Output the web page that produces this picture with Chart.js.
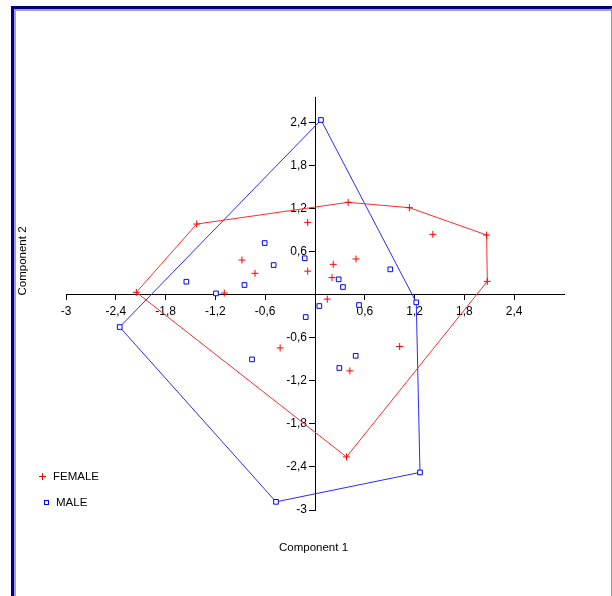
<!DOCTYPE html>
<html>
<head>
<meta charset="utf-8">
<script src="https://cdn.jsdelivr.net/npm/chart.js@4/dist/chart.umd.min.js"></script>
<style>
  html, body { margin: 0; padding: 0; background: #fff; }
  #wrap { position: relative; width: 612px; height: 596px; overflow: hidden; font-family: "Liberation Sans", Arial, sans-serif; }
  #frame { position: absolute; left: 11px; top: 6px; width: 597px; height: 600px;
           border-top: 3px solid #000080; border-left: 3px solid #000080; border-right: 2px solid #8c8cc8;
           box-shadow: inset 2px 2px 0 #9f9fdf; box-sizing: content-box; }
  canvas { position: absolute; left: 0; top: 0; }
  .txt { position: absolute; font-size: 11.5px; color: #000; white-space: nowrap; line-height: 13px; }
  .plus { position: absolute; width: 7px; height: 7px; }
  .plus:before { content: ""; position: absolute; left: 3px; top: 0; width: 1px; height: 7px; background: #ff0000; }
  .plus:after { content: ""; position: absolute; left: 0; top: 3px; width: 7px; height: 1px; background: #ff0000; }
  .sq { position: absolute; width: 3px; height: 3px; border: 1px solid #0000ff; background: #fff; }
</style>
</head>
<body>
<div id="wrap">
  <div id="frame"></div>
  <canvas id="c" width="612" height="596"></canvas>
  <div class="txt" id="xt" style="left:279px; top:541px;">Component 1</div>
  <div class="txt" id="yt" style="left:-12px; top:255px; transform: rotate(-90deg); transform-origin: 50% 50%; width:68px; text-align:center;">Component 2</div>
  <div class="plus" style="left:39px; top:473px;"></div>
  <div class="txt" style="left:53px; top:470px;">FEMALE</div>
  <div class="sq" style="left:44px; top:500px;"></div>
  <div class="txt" style="left:56px; top:496px;">MALE</div>
</div>
<script>
// ---- Data ----
const femaleX = [-2.153, -1.425, 0.40, 1.137, 2.068, 2.076, 0.38, -1.093, -0.88, -0.723, -0.088, -0.088, 0.148, 0.22, 0.205, 1.42, 0.494, 1.02, 0.42, -0.42];
const femaleY = [0.035, 0.987, 1.29, 1.215, 0.834, 0.188, -2.26, 0.025, 0.485, 0.30, 1.01, 0.33, -0.06, 0.425, 0.24, 0.843, 0.50, -0.72, -1.06, -0.74];
const maleX = [0.072, 1.22, 1.265, -0.47, -2.353, -0.606, -0.498, -0.124, -1.55, -0.85, -1.193, 0.052, -0.112, 0.285, 0.337, 0.907, 0.53, 0.49, 0.293, -0.759];
const maleY = [2.438, -0.105, -2.476, -2.886, -0.449, 0.722, 0.415, 0.51, 0.183, 0.137, 0.02, -0.156, -0.31, 0.216, 0.109, 0.355, -0.142, -0.85, -1.02, -0.90];
// convex hull vertex order (indices into the series above), closed
const femaleHull = [0, 1, 2, 3, 4, 5, 6, 0];
const maleHull = [0, 1, 2, 3, 4, 0];
const xTicks = [-3, -2.4, -1.8, -1.2, -0.6, 0.6, 1.2, 1.8, 2.4];
const yTicks = [-3, -2.4, -1.8, -1.2, -0.6, 0.6, 1.2, 1.8, 2.4];
const seriesNames = ['FEMALE', 'MALE'];

const pts = (xs, ys) => xs.map((x, i) => ({x: x, y: ys[i]}));
const hull = (xs, ys, idx) => idx.map(i => ({x: xs[i], y: ys[i]}));
const fmt = v => (Math.round(v * 10) / 10).toString().replace('.', ',');
const tickFont = {family: '"Liberation Sans", Arial, sans-serif', size: 12};

new Chart(document.getElementById('c'), {
  type: 'scatter',
  data: {
    datasets: [
      {label: seriesNames[0], data: pts(femaleX, femaleY), pointStyle: 'cross', pointRadius: 3.5,
       borderColor: '#ff0000', backgroundColor: '#ff0000', pointBorderWidth: 1, showLine: false},
      {label: seriesNames[1], data: pts(maleX, maleY), pointStyle: 'rect', pointRadius: 3.3,
       borderColor: '#0000ff', backgroundColor: '#ffffff', pointBorderWidth: 1, showLine: false},
      {label: 'FEMALE hull', data: hull(femaleX, femaleY, femaleHull), showLine: true, pointRadius: 0,
       borderColor: '#ff2a2a', borderWidth: 1, fill: false, tension: 0},
      {label: 'MALE hull', data: hull(maleX, maleY, maleHull), showLine: true, pointRadius: 0,
       borderColor: '#2a2aff', borderWidth: 1, fill: false, tension: 0}
    ]
  },
  options: {
    responsive: false,
    animation: false,
    devicePixelRatio: 1,
    layout: {padding: {left: 66, right: 48, top: 97.6, bottom: 86}},
    plugins: {legend: {display: false}, tooltip: {enabled: false}, title: {display: false}},
    scales: {
      x: {
        type: 'linear', min: -3, max: 3, position: {y: 0},
        afterBuildTicks: s => { s.ticks = xTicks.map(v => ({value: v})); },
        grid: {drawOnChartArea: false, drawTicks: true, tickLength: 5, color: '#000'},
        border: {display: true, color: '#000', width: 1},
        ticks: {color: '#000', font: tickFont, padding: 5, maxRotation: 0, autoSkip: false, callback: v => fmt(v)}
      },
      y: {
        // x range is symmetric (-3..3), so the centre of the plot is x = 0
        type: 'linear', min: -3, max: 2.75, position: 'center',
        afterBuildTicks: s => { s.ticks = yTicks.map(v => ({value: v})); },
        grid: {drawOnChartArea: false, drawTicks: true, tickLength: 6, color: '#000'},
        border: {display: true, color: '#000', width: 1},
        ticks: {color: '#000', font: tickFont, padding: 2, autoSkip: false, callback: v => fmt(v)}
      }
    }
  }
});
</script>
</body>
</html>
